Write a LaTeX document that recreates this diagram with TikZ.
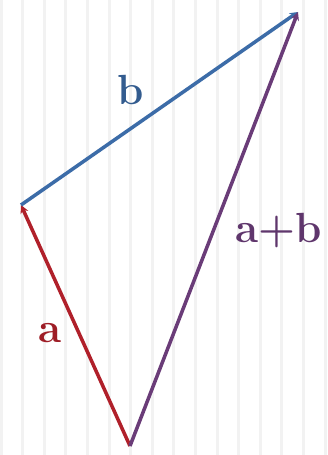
\documentclass[tikz,border=0pt]{standalone}
\usepackage{tikz}
\usetikzlibrary{arrows.meta}

\definecolor{veca}{HTML}{B0202A}
\definecolor{vecb}{HTML}{3C6CA8}
\definecolor{vecab}{HTML}{6A3C78}
\definecolor{stripe}{HTML}{F2F2F2}

\tikzset{
    vec/.style={line width=3pt, -{Stealth[length=7pt,width=7pt]}},
    lbl/.style={font=\fontsize{36}{42}\selectfont\bfseries, inner sep=0pt}
}

\begin{document}
\begin{tikzpicture}[x=0.03cm, y=-0.03cm]
        \useasboundingbox (0,0) rectangle (327,455);
        \fill[white] (0,0) rectangle (327,455);
        % background stripes
        \foreach \k in {0,...,15}
            \fill[stripe] ({21.6*\k-0.5},0) rectangle ({21.6*\k+2.5},455);

        \coordinate (O) at (130,446);
        \coordinate (P) at (21,205);
        \coordinate (Q) at (298,12);

        \draw[vec, veca] (O) -- (P);
        \draw[vec, vecb] (P) -- (Q);
        \draw[vec, vecab] (O) -- (Q);

        \node[lbl, text=vecb!85!black] (lb) at (131,90) {b};
        \node[lbl, text=veca!90!black] (la) at (50,333) {a};
        \node[lbl, text=vecab!90!black] (lab) at (279,231) {a+b};
    \end{tikzpicture}
\end{document}
